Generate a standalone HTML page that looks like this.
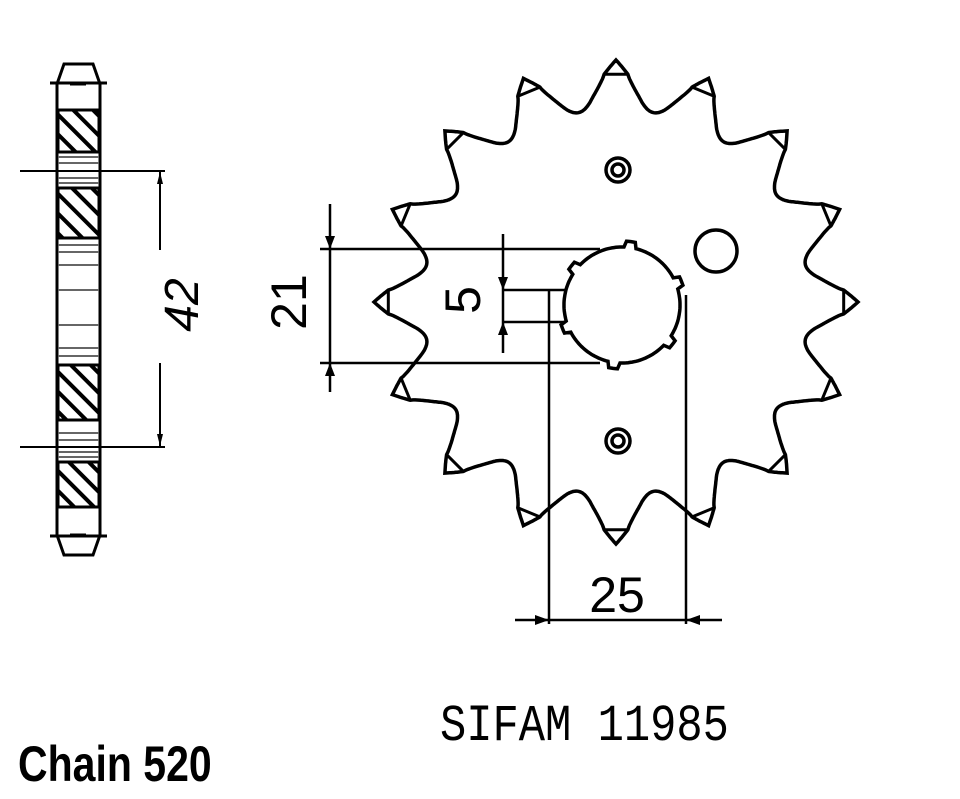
<!DOCTYPE html>
<html><head><meta charset="utf-8"><style>
html,body{margin:0;padding:0;background:#fff;width:960px;height:799px;overflow:hidden}
svg{position:absolute;left:0;top:0}
</style></head><body>
<svg id="s" width="960" height="799" viewBox="0 0 960 799" xmlns="http://www.w3.org/2000/svg">
<defs>
<pattern id="h" width="14" height="14" patternUnits="userSpaceOnUse" patternTransform="rotate(-45)">
<rect width="14" height="14" fill="#fff"/><rect width="4" height="14" fill="#000"/>
</pattern>
</defs>
<g fill="none" stroke="#000" stroke-width="3">
<path d="M57,84 L64,64 L93,64 L100,84 L100,535 L93,555 L64,555 L57,535 Z"/>
<line x1="50" y1="83" x2="107" y2="83"/>
<line x1="50" y1="536" x2="107" y2="536"/>
<line x1="70" y1="84" x2="86" y2="84"/>
<line x1="70" y1="535" x2="86" y2="535"/>
<rect x="58" y="110" width="41" height="42" fill="url(#h)"/>
<rect x="58" y="188" width="41" height="50" fill="url(#h)"/>
<rect x="58" y="365" width="41" height="55" fill="url(#h)"/>
<rect x="58" y="462" width="41" height="45" fill="url(#h)"/>
<g stroke="#666" stroke-width="2">
<line x1="58" y1="157" x2="99" y2="157"/><line x1="58" y1="163" x2="99" y2="163"/>
<line x1="58" y1="178" x2="99" y2="178"/><line x1="58" y1="183" x2="99" y2="183"/>
<line x1="58" y1="245" x2="99" y2="245"/><line x1="58" y1="252" x2="99" y2="252"/>
<line x1="58" y1="265" x2="99" y2="265"/><line x1="58" y1="290" x2="99" y2="290"/>
<line x1="58" y1="325" x2="99" y2="325"/><line x1="58" y1="348" x2="99" y2="348"/>
<line x1="58" y1="356" x2="99" y2="356"/>
<line x1="58" y1="433" x2="99" y2="433"/><line x1="58" y1="440" x2="99" y2="440"/>
<line x1="58" y1="452" x2="99" y2="452"/><line x1="58" y1="457" x2="99" y2="457"/>
</g>
<g stroke-width="2">
<line x1="20" y1="171" x2="165" y2="171"/>
<line x1="20" y1="447" x2="165" y2="447"/>
<line x1="160" y1="172" x2="160" y2="250"/>
<line x1="160" y1="363" x2="160" y2="446"/>
</g>
</g>
<g fill="#000">
<path d="M160,172 l-3,12 l6,0 z"/><path d="M160,446 l-3,-12 l6,0 z"/>
</g>
<text transform="translate(198,305) rotate(-90)" font-family="Liberation Sans, sans-serif" font-style="italic" font-size="48" text-anchor="middle">42</text>

<path id="spr" fill="none" stroke="#000" stroke-width="3.5" d=""/>
<g id="tips" fill="none" stroke="#000" stroke-width="3"></g>
<g fill="none" stroke="#000" stroke-width="3.5">
<circle cx="618" cy="170" r="12"/><circle cx="618" cy="170" r="6"/>
<circle cx="618" cy="441" r="12"/><circle cx="618" cy="441" r="6"/>
<circle cx="716" cy="251" r="21"/>
<path id="hole" d=""/>
</g>
<g stroke="#000" stroke-width="2.5" fill="none">
<line x1="330" y1="204" x2="330" y2="392"/>
<line x1="320" y1="249" x2="600" y2="249"/>
<line x1="320" y1="363" x2="600" y2="363"/>
<line x1="503" y1="234" x2="503" y2="353"/>
<line x1="503" y1="290" x2="566" y2="290"/>
<line x1="503" y1="322" x2="566" y2="322"/>
<line x1="549" y1="289" x2="549" y2="624"/>
<line x1="686" y1="295" x2="686" y2="624"/>
<line x1="515" y1="620" x2="722" y2="620"/>
</g>
<g fill="#000">
<path d="M330,249 l-5,-13 l10,0 z"/><path d="M330,363 l-5,13 l10,0 z"/>
<path d="M503,290 l-5,-13 l10,0 z"/><path d="M503,322 l-5,13 l10,0 z"/>
<path d="M549,620 l-14,-5 l0,10 z"/><path d="M686,620 l14,-5 l0,10 z"/>
</g>
<text transform="translate(306,302) rotate(-90)" font-family="Liberation Sans, sans-serif" font-size="50" text-anchor="middle">21</text>
<text transform="translate(480,300) rotate(-90)" font-family="Liberation Sans, sans-serif" font-size="50" text-anchor="middle">5</text>
<text x="617" y="612" font-family="Liberation Sans, sans-serif" font-size="50" text-anchor="middle">25</text>

<text x="440" y="740" font-family="Liberation Mono, monospace" font-size="52" transform="translate(440,0) scale(0.62,1) translate(-440,0)" textLength="466" lengthAdjust="spacingAndGlyphs">SIFAM  11985</text>
<text x="18" y="781" font-family="Liberation Sans, sans-serif" font-weight="bold" font-size="50" transform="translate(18,0) scale(0.82,1) translate(-18,0)">Chain 520</text>
</svg>
<script>
(function(){
var cx=616,cy=302,N=16,pts=[],tips='';
function r(a){a=Math.abs(a);
 if(a>=7.5) return 193+8*Math.pow((11.25-a)/3.75,2);
 if(a>=3) return 228-27*Math.pow((a-3)/4.5,0.8);
 return 228+14*(1-a/3);}
for(var i=0;i<=1440;i++){var d=i*0.25;var rel=((d+11.25)%22.5)-11.25;var rr=r(rel);var t=d*Math.PI/180;
 pts.push((cx+rr*Math.sin(t)).toFixed(1)+','+(cy-rr*Math.cos(t)).toFixed(1));}
document.getElementById('spr').setAttribute('d','M'+pts.join(' L')+'Z');
for(var k=0;k<N;k++){var t1=(k*22.5-3)*Math.PI/180,t2=(k*22.5+3)*Math.PI/180;
 tips+='<line x1="'+(cx+228*Math.sin(t1))+'" y1="'+(cy-228*Math.cos(t1))+'" x2="'+(cx+228*Math.sin(t2))+'" y2="'+(cy-228*Math.cos(t2))+'"/>';}
document.getElementById('tips').innerHTML=tips;
var hx=622,hy=305,hp=[];
for(var j=0;j<=360;j+=2){var rel=((j+30)%60)-30;var rr=Math.abs(rel-8)<6?64:58;var t=j*Math.PI/180;
 hp.push((hx+rr*Math.sin(t)).toFixed(1)+','+(hy-rr*Math.cos(t)).toFixed(1));}
document.getElementById('hole').setAttribute('d','M'+hp.join(' L')+'Z');
})();
</script>
</body></html>
